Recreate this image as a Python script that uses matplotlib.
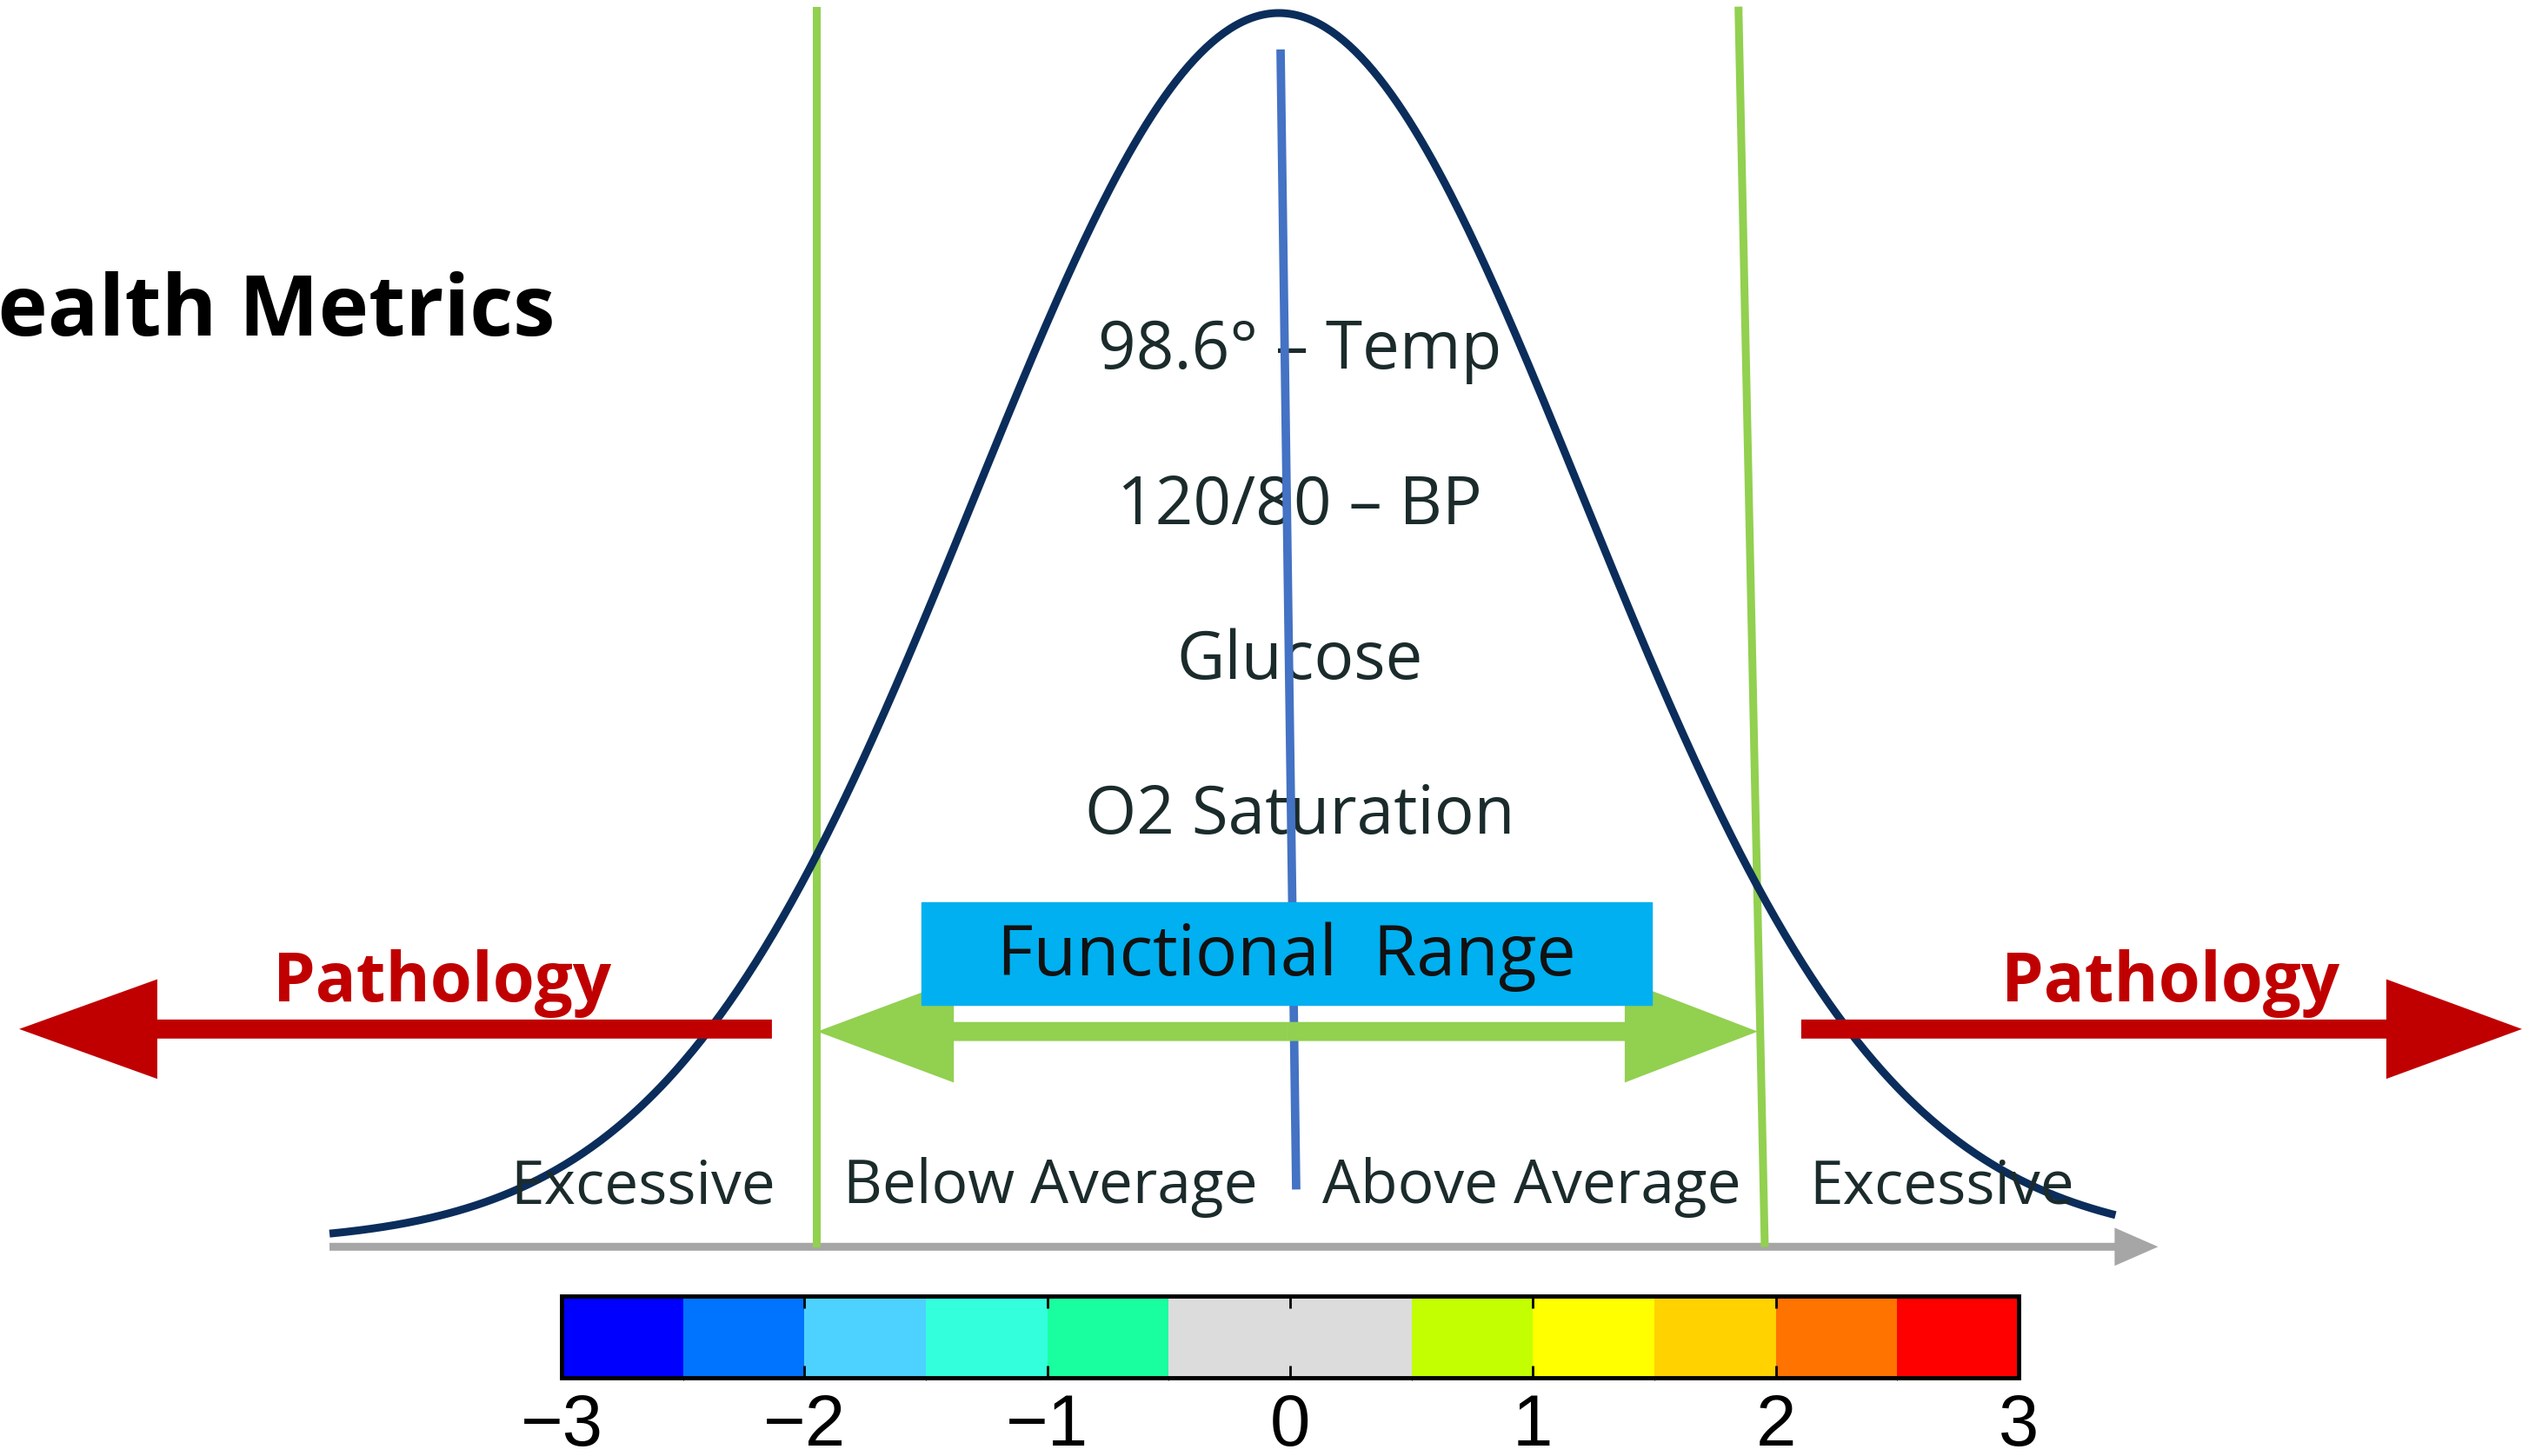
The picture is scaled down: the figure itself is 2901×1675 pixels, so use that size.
import matplotlib.pyplot as plt
import numpy as np
from matplotlib.colors import ListedColormap, BoundaryNorm
from matplotlib.cm import ScalarMappable
from matplotlib.patches import Rectangle

# x is in standard deviations (z), y is curve height with peak = 1
curve_lo, curve_hi = -3.12, 2.75
metric_labels = ["98.6° – Temp", "120/80 – BP", "Glucose", "O2 Saturation"]
metric_y = [0.725, 0.599, 0.473, 0.347]
zone_labels = ["Excessive", "Below Average", "Above Average", "Excessive"]
zone_x = [-2.09, -0.75, 0.83, 2.18]
left_edge = [-1.52, -1.52]
right_edge = [1.511, 1.597]

# colour scale under the curve
cbar_bounds = [-3, -2.5, -2, -1.5, -1, -0.5, 0.5, 1, 1.5, 2, 2.5, 3]
cbar_colors = ["#0000FF", "#0073FF", "#4DD2FF", "#33FFDD", "#19FFA0", "#DCDCDC",
               "#C3FF00", "#FFFF00", "#FFD200", "#FF7300", "#FF0000"]
cbar_ticks = [-3, -2, -1, 0, 1, 2, 3]

RED = "#C00000"
GREEN = "#92D050"
TEXT = "#1b2b2b"
LIGHT = "Open Sans"

fig = plt.figure(figsize=(29.01, 16.75), dpi=100)
fig.patch.set_facecolor("white")
ax = fig.add_axes([0, 0, 1, 1])
ax.set_xlim(-4.203, 4.086)
ax.set_ylim(-0.1731, 1.0106)
ax.axis("off")

# bell curve
x = np.linspace(curve_lo, curve_hi, 600)
ax.plot(x, np.exp(-x ** 2 / 2), color="#0B2D5B", lw=6.5, zorder=3, solid_capstyle="butt")

# grey baseline arrow
ax.arrow(curve_lo, -0.003, 2.89 - curve_lo, 0, width=0.0064, head_width=0.031,
         head_length=0.143, length_includes_head=True, color="#A6A6A6", lw=0, zorder=2)

# boundaries of the functional range
ax.plot(left_edge, [1.002, 0.0], color=GREEN, lw=6.5, zorder=2)
ax.plot(right_edge, [1.002, 0.0], color=GREEN, lw=6.5, zorder=2)

# centre line
ax.plot([0.006, 0.057], [0.967, 0.047], color="#4472C4", lw=7, zorder=4)

# metric labels
for lab, yy in zip(metric_labels, metric_y):
    ax.text(0.069, yy, lab, ha="center", va="center", fontsize=55,
            family=LIGHT, color=TEXT, zorder=3)

# zone labels along the bottom
for lab, xx in zip(zone_labels, zone_x):
    ax.text(xx, 0.045, lab, ha="center", va="center", fontsize=50,
            family=LIGHT, color=TEXT, zorder=3)

# green double arrow
mid = (-1.517 + 1.574) / 2
ax.arrow(mid, 0.172, -1.517 - mid, 0, width=0.0155, head_width=0.083,
         head_length=0.449, length_includes_head=True, color=GREEN, lw=0, zorder=4)
ax.arrow(mid, 0.172, 1.574 - mid, 0, width=0.0155, head_width=0.083,
         head_length=0.437, length_includes_head=True, color=GREEN, lw=0, zorder=4)

# functional range box
ax.add_patch(Rectangle((-1.174, 0.194), 2.40, 0.083, color="#00B0F0", zorder=5))
ax.text(0.026, 0.233, "Functional  Range", ha="center", va="center", fontsize=58,
        family=LIGHT, color="#111111", zorder=6)

# pathology arrows
ax.arrow(-1.666, 0.174, -4.14 + 1.666, 0, width=0.0155, head_width=0.081,
         head_length=0.454, length_includes_head=True, color=RED, lw=0, zorder=4)
ax.arrow(1.717, 0.174, 4.086 - 1.717, 0, width=0.0155, head_width=0.081,
         head_length=0.446, length_includes_head=True, color=RED, lw=0, zorder=4)
ax.text(-2.749, 0.211, "Pathology", ha="center", va="center", fontsize=56,
        weight="bold", family="Open Sans", color=RED, zorder=5)
ax.text(2.931, 0.211, "Pathology", ha="center", va="center", fontsize=56,
        weight="bold", family="Open Sans", color=RED, zorder=5)

# title, cut off at the left edge as in the source slide
ax.text(-2.38, 0.756, "Health Metrics", ha="right", va="center", fontsize=70,
        weight="bold", family="Open Sans", color="black")

# colour bar
cax = fig.add_axes([0.2227, 0.0537, 0.5777, 0.0561])
cmap = ListedColormap(cbar_colors)
norm = BoundaryNorm(cbar_bounds, cmap.N)
cb = fig.colorbar(ScalarMappable(norm=norm, cmap=cmap), cax=cax,
                  orientation="horizontal", ticks=cbar_ticks, spacing="proportional")
cb.outline.set_linewidth(3.5)
cax.tick_params(axis="x", direction="in", length=10, width=2, top=True,
                bottom=True, labelsize=60, pad=12)
cax.set_xticklabels(["\u2212" + str(-t) if t < 0 else str(t) for t in cbar_ticks],
                    family="Liberation Sans")

fig.savefig("out.png", dpi=100, facecolor="white")
